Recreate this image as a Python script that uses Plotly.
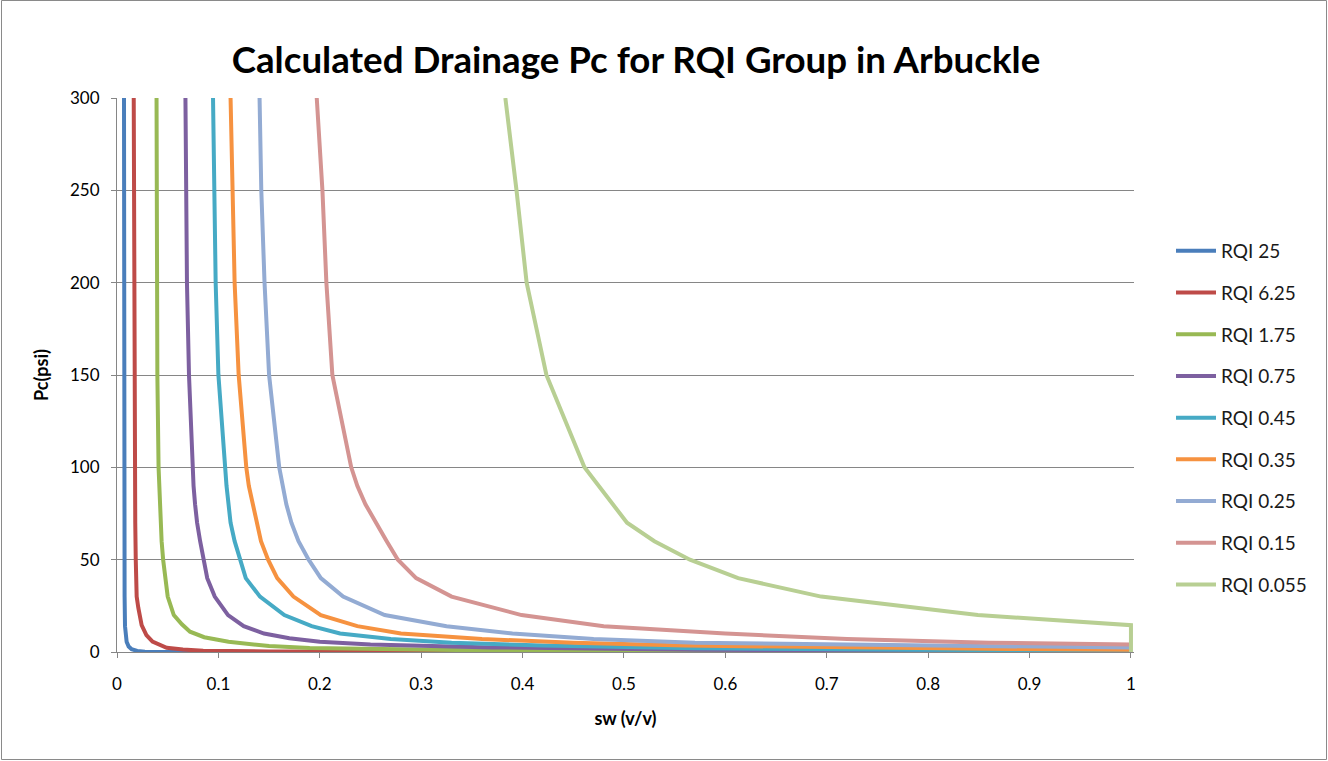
import plotly.graph_objects as go

# ---- data ----
labels = ["RQI 25", "RQI 6.25", "RQI 1.75", "RQI 0.75", "RQI 0.45",
          "RQI 0.35", "RQI 0.25", "RQI 0.15", "RQI 0.055"]
colors = ["#4A7EBB", "#BE4B48", "#98B954", "#7D60A0", "#46AAC5",
          "#F69240", "#93ABD3", "#D49492", "#B8CF93"]

sw_rqi_25 = [0.0069, 0.0069, 0.0070, 0.0072, 0.0075, 0.0079, 0.0095, 0.0115, 0.0144, 0.020, 0.0275, 0.10, 1.0]
pc_rqi_25 = [300, 200, 100, 50, 30, 14, 5.6, 3, 1.5, 0.6, 0.2, 0.03, 0.0]

sw_rqi_6_25 = [0.0165, 0.0167, 0.0169, 0.0171, 0.0175, 0.018, 0.0185, 0.0194, 0.021, 0.0243, 0.029, 0.035, 0.049, 0.065, 0.085, 0.15, 0.40, 1.0]
pc_rqi_6_25 = [300, 250, 200, 150, 100, 70, 50, 30, 24, 14.5, 9.2, 5.6, 2.3, 1.3, 0.7, 0.3, 0.08, 0.02]

sw_rqi_1_75 = [0.039, 0.0392, 0.0394, 0.0398, 0.0410, 0.0415, 0.042, 0.043, 0.044, 0.0455, 0.0475, 0.050, 0.056, 0.064, 0.072, 0.086, 0.11, 0.15, 0.19, 0.37, 0.60, 1.0]
pc_rqi_1_75 = [300, 250, 200, 150, 100, 90, 80, 70, 60, 50, 40, 30, 20, 15, 11, 8, 5.5, 3.2, 2.2, 0.8, 0.35, 0.12]

sw_rqi_0_75 = [0.0675, 0.0685, 0.069, 0.071, 0.074, 0.0755, 0.077, 0.079, 0.082, 0.085, 0.089, 0.0964, 0.1095, 0.125, 0.145, 0.17, 0.20, 0.25, 0.37, 0.57, 0.80, 1.0]
pc_rqi_0_75 = [300, 250, 200, 150, 100, 90, 80, 70, 60, 50, 40, 30, 20, 14, 10, 7.5, 5.5, 4, 2.5, 1.2, 0.6, 0.35]

sw_rqi_0_45 = [0.0947, 0.0964, 0.0973, 0.100, 0.106, 0.108, 0.110, 0.112, 0.116, 0.121, 0.127, 0.141, 0.165, 0.192, 0.22, 0.27, 0.33, 0.42, 0.57, 0.78, 1.0]
pc_rqi_0_45 = [300, 250, 200, 150, 100, 90, 80, 70, 60, 50, 40, 30, 20, 14, 10, 7, 5, 3.5, 2.0, 1.2, 0.8]

sw_rqi_0_35 = [0.112, 0.1138, 0.116, 0.120, 0.1275, 0.130, 0.134, 0.137, 0.142, 0.149, 0.158, 0.174, 0.201, 0.237, 0.28, 0.36, 0.45, 0.56, 0.72, 0.88, 1.0]
pc_rqi_0_35 = [300, 250, 200, 150, 100, 90, 80, 70, 60, 50, 40, 30, 20, 14, 10, 7, 5, 3.5, 2.3, 1.6, 1.2]

sw_rqi_0_25 = [0.1406, 0.1423, 0.1455, 0.150, 0.160, 0.163, 0.167, 0.172, 0.179, 0.189, 0.201, 0.223, 0.264, 0.325, 0.39, 0.47, 0.57, 0.72, 0.90, 1.0]
pc_rqi_0_25 = [300, 250, 200, 150, 100, 90, 80, 70, 60, 50, 40, 30, 20, 14, 10, 7, 5, 4, 3, 2.4]

sw_rqi_0_15 = [0.197, 0.2026, 0.2065, 0.2124, 0.231, 0.237, 0.245, 0.255, 0.266, 0.277, 0.295, 0.330, 0.399, 0.48, 0.60, 0.72, 0.86, 1.0]
pc_rqi_0_15 = [300, 250, 200, 150, 100, 90, 80, 70, 60, 50, 40, 30, 20, 14, 10, 7, 5, 4.1]

sw_rqi_0_055 = [0.383, 0.394, 0.404, 0.4235, 0.461, 0.475, 0.488, 0.503, 0.530, 0.565, 0.6126, 0.6945, 0.849, 1.0, 1.0]
pc_rqi_0_055 = [300, 250, 200, 150, 100, 90, 80, 70, 60, 50, 40, 30, 20, 14.5, 0]

series_sw = [sw_rqi_25, sw_rqi_6_25, sw_rqi_1_75, sw_rqi_0_75, sw_rqi_0_45,
             sw_rqi_0_35, sw_rqi_0_25, sw_rqi_0_15, sw_rqi_0_055]
series_pc = [pc_rqi_25, pc_rqi_6_25, pc_rqi_1_75, pc_rqi_0_75, pc_rqi_0_45,
             pc_rqi_0_35, pc_rqi_0_25, pc_rqi_0_15, pc_rqi_0_055]

x_ticks = [0, 0.1, 0.2, 0.3, 0.4, 0.5, 0.6, 0.7, 0.8, 0.9, 1]
x_tick_text = ["0", "0.1", "0.2", "0.3", "0.4", "0.5", "0.6", "0.7", "0.8", "0.9", "1"]
y_ticks = [0, 50, 100, 150, 200, 250, 300]

# ---- figure ----
W, H = 1328, 761
L, R, T, B = 117, 194, 98, 109
FONT = "Lato, Carlito, Calibri, sans-serif"

fig = go.Figure()
for i, (sw, pc) in enumerate(zip(series_sw, series_pc)):
    fig.add_trace(go.Scatter(
        x=sw, y=pc, mode="lines", name=labels[i], legendgroup=labels[i],
        line=dict(color=colors[i], width=4),
    ))

pw, ph = W - L - R, H - T - B
def px2paper_x(px):
    return (px - L) / pw
def px2paper_y(py):
    return (H - B - py) / ph

fig.update_layout(
    width=W, height=H, autosize=False,
    margin=dict(l=L, r=R, t=T, b=B, pad=0),
    paper_bgcolor="white", plot_bgcolor="white",
    font=dict(family=FONT, size=16, color="#000000"),
    title=dict(text="<b>Calculated Drainage Pc for RQI Group in Arbuckle</b>",
               x=636 / W, xanchor="center", y=1 - 60 / H, yanchor="middle",
               font=dict(family=FONT, size=36.7, color="#000000")),
    showlegend=True,
    legend=dict(x=px2paper_x(1171), xanchor="left", y=px2paper_y(232), yanchor="top",
                font=dict(family=FONT, size=19, color="#1a1a1a"),
                tracegroupgap=14, itemwidth=40, bgcolor="rgba(0,0,0,0)"),
    xaxis=dict(range=[0, 1.003], tickvals=x_ticks, ticktext=x_tick_text,
               showgrid=False, zeroline=False, showline=True, linecolor="#868686",
               linewidth=1, ticks="outside", ticklen=5, tickcolor="#868686",
               ticklabelstandoff=12, tickfont=dict(size=17),
               title=dict(text="<b>sw (v/v)</b>", font=dict(size=18), standoff=18)),
    yaxis=dict(range=[0, 300], tickvals=y_ticks,
               showgrid=True, gridcolor="#868686", gridwidth=1,
               zeroline=False, showline=True, linecolor="#868686", linewidth=1,
               ticks="outside", ticklen=5, tickcolor="#868686",
               ticklabelstandoff=8, tickfont=dict(size=17),
               title=dict(text="<b>Pc(psi)</b>", font=dict(size=18), standoff=16)),
    shapes=[dict(type="rect", xref="paper", yref="paper",
                 x0=px2paper_x(1.5), x1=px2paper_x(1326.5),
                 y0=px2paper_y(759.5), y1=px2paper_y(0.5),
                 line=dict(color="#8a8a8a", width=1), fillcolor="rgba(0,0,0,0)",
                 layer="below")],
)

fig.write_html("out.html", config={"displayModeBar": False},
               post_script="document.body.style.margin='0px';document.body.style.overflow='hidden';")
